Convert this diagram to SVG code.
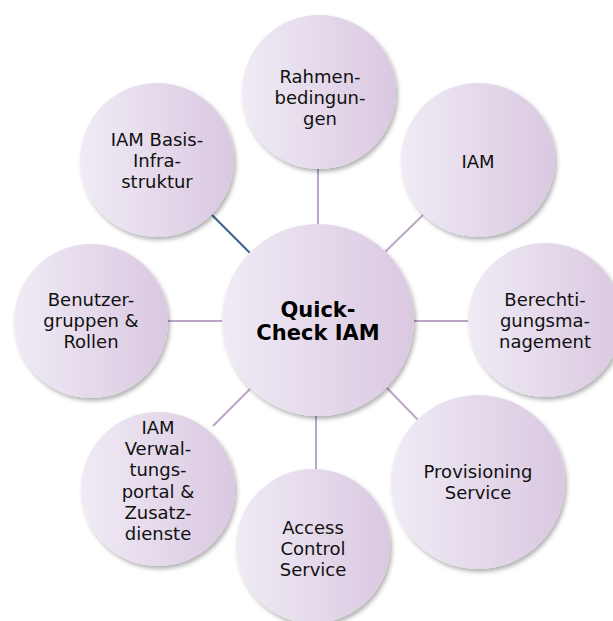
<svg xmlns="http://www.w3.org/2000/svg" width="613" height="621" viewBox="0 0 613 621">
  <defs>
    <linearGradient id="g" x1="0" y1="0" x2="1" y2="0">
      <stop offset="0" stop-color="#f0ebf5"/>
      <stop offset="1" stop-color="#dac8e1"/>
    </linearGradient>
    <filter id="sh" x="-20%" y="-20%" width="140%" height="140%">
      <feDropShadow dx="2" dy="3" stdDeviation="2" flood-color="#000" flood-opacity="0.3"/>
    </filter>
  </defs>
  <style>
    .c { fill: url(#g); filter: url(#sh); }
    .t { font-family: "DejaVu Sans", Verdana, sans-serif; font-size: 18px; fill: #111; text-anchor: middle; }
    .b { font-family: "DejaVu Sans", Verdana, sans-serif; font-size: 21px; font-weight: bold; fill: #000; text-anchor: middle; }
    .l { stroke: #bba6c7; stroke-width: 2; fill: none; }
    .lb { stroke: #3b5f8c; stroke-width: 2; fill: none; }
  </style>
  <rect width="613" height="621" fill="#fff"/>
  <g id="connectors">
    <line class="l" x1="318" y1="166" x2="318" y2="226"/>
    <line class="l" x1="385" y1="252" x2="423" y2="215"/>
    <line class="l" x1="412" y1="321" x2="470" y2="321"/>
    <line class="l" x1="387" y1="388" x2="418" y2="420"/>
    <line class="l" x1="316" y1="414" x2="316" y2="470"/>
    <line class="l" x1="250" y1="389" x2="213" y2="426"/>
    <line class="l" x1="166" y1="321" x2="224" y2="321"/>
    <line class="lb" x1="212" y1="215" x2="250" y2="253"/>
  </g>
  <g id="center">
    <circle class="c" cx="318" cy="320" r="96"/>
    <text class="b" x="318" y="317">Quick-</text>
    <text class="b" x="318" y="340">Check IAM</text>
  </g>
  <g id="rahmen">
    <circle class="c" cx="319" cy="92" r="77"/>
    <text class="t" x="320" y="83">Rahmen-</text>
    <text class="t" x="320" y="104">bedingun-</text>
    <text class="t" x="320" y="125">gen</text>
  </g>
  <g id="iam">
    <circle class="c" cx="478" cy="160" r="77"/>
    <text class="t" x="478" y="168">IAM</text>
  </g>
  <g id="berechtigung">
    <circle class="c" cx="545" cy="320" r="77"/>
    <text class="t" x="545" y="306">Berechti-</text>
    <text class="t" x="545" y="327">gungsma-</text>
    <text class="t" x="545" y="348">nagement</text>
  </g>
  <g id="provisioning">
    <circle class="c" cx="478" cy="482" r="87"/>
    <text class="t" x="478" y="478">Provisioning</text>
    <text class="t" x="478" y="499">Service</text>
  </g>
  <g id="access">
    <circle class="c" cx="313" cy="546" r="77"/>
    <text class="t" x="313" y="534">Access</text>
    <text class="t" x="313" y="555">Control</text>
    <text class="t" x="313" y="576">Service</text>
  </g>
  <g id="verwaltung">
    <circle class="c" cx="158" cy="489" r="77"/>
    <text class="t" x="158" y="434">IAM</text>
    <text class="t" x="158" y="455">Verwal-</text>
    <text class="t" x="158" y="476">tungs-</text>
    <text class="t" x="158" y="498">portal &amp;</text>
    <text class="t" x="158" y="519">Zusatz-</text>
    <text class="t" x="158" y="540">dienste</text>
  </g>
  <g id="benutzer">
    <circle class="c" cx="91" cy="321" r="77"/>
    <text class="t" x="91" y="306">Benutzer-</text>
    <text class="t" x="91" y="327">gruppen &amp;</text>
    <text class="t" x="91" y="348">Rollen</text>
  </g>
  <g id="basis">
    <circle class="c" cx="157" cy="160" r="77"/>
    <text class="t" x="157" y="146">IAM Basis-</text>
    <text class="t" x="157" y="167">Infra-</text>
    <text class="t" x="157" y="188">struktur</text>
  </g>
</svg>
